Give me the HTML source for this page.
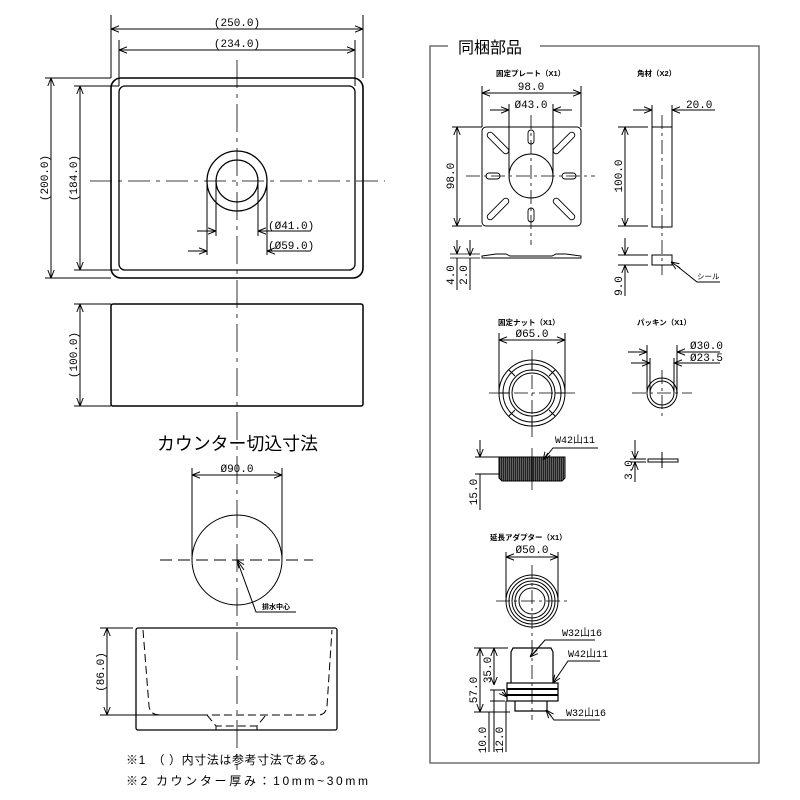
<!DOCTYPE html>
<html><head><meta charset="utf-8"><style>
html,body{margin:0;padding:0;background:#fff}
svg{display:block}
text{font-family:"Liberation Mono","Noto Sans CJK JP",monospace;fill:#000}
.j{font-family:"Liberation Sans","Noto Sans CJK JP",sans-serif}
</style></head><body>
<svg width="800" height="800" viewBox="0 0 800 800" xmlns="http://www.w3.org/2000/svg">
<defs>
<marker id="a" viewBox="0 0 10 10" refX="10" refY="5" markerWidth="8" markerHeight="8" orient="auto-start-reverse" markerUnits="userSpaceOnUse"><path d="M0,1 L10,5 L0,9" fill="none" stroke="#000" stroke-width="1.2"/></marker>
<pattern id="k" width="2" height="4" patternUnits="userSpaceOnUse"><rect width="2" height="4" fill="#222"/><rect width="0.6" height="4" fill="#888"/></pattern>
</defs>
<g fill="none" stroke="#000" stroke-width="1">
<!-- top view -->
<rect x="111" y="78" width="252" height="200" rx="10" stroke-width="1.6"/>
<rect x="119" y="86" width="236" height="184" rx="6" stroke-width="1.3"/>
<circle cx="237" cy="181" r="30" stroke-width="1.3"/>
<circle cx="237" cy="181" r="21" stroke-width="1.3"/>
<line x1="237" y1="60" x2="237" y2="770" stroke-dasharray="28,6,4,6" stroke-width="0.8"/>
<line x1="90" y1="181" x2="385" y2="181" stroke-dasharray="22,6,4,6" stroke-width="0.8"/>
<line x1="111" y1="15" x2="111" y2="78"/><line x1="363" y1="15" x2="363" y2="78"/>
<line x1="119" y1="40" x2="119" y2="86"/><line x1="355" y1="40" x2="355" y2="86"/>
<line x1="111" y1="29" x2="363" y2="29" marker-start="url(#a)" marker-end="url(#a)"/>
<line x1="119" y1="50" x2="355" y2="50" marker-start="url(#a)" marker-end="url(#a)"/>
<line x1="45" y1="78" x2="111" y2="78"/><line x1="45" y1="278" x2="111" y2="278"/>
<line x1="74" y1="86" x2="119" y2="86"/><line x1="74" y1="270" x2="119" y2="270"/>
<line x1="51" y1="78" x2="51" y2="278" marker-start="url(#a)" marker-end="url(#a)"/>
<line x1="80" y1="86" x2="80" y2="270" marker-start="url(#a)" marker-end="url(#a)"/>
<line x1="207" y1="181" x2="207" y2="255"/><line x1="267" y1="181" x2="267" y2="255"/>
<line x1="216" y1="181" x2="216" y2="236"/><line x1="258" y1="181" x2="258" y2="236"/>
<line x1="197" y1="231" x2="216" y2="231" marker-end="url(#a)"/><line x1="258" y1="231" x2="310" y2="231" marker-start="url(#a)"/>
<line x1="188" y1="251" x2="207" y2="251" marker-end="url(#a)"/><line x1="267" y1="251" x2="310" y2="251" marker-start="url(#a)"/>
<!-- side view -->
<rect x="111" y="304" width="252" height="102" rx="2" stroke-width="1.5"/>
<line x1="74" y1="304" x2="111" y2="304"/><line x1="74" y1="406" x2="111" y2="406"/>
<line x1="80" y1="304" x2="80" y2="406" marker-start="url(#a)" marker-end="url(#a)"/>
<!-- counter cutout -->
<circle cx="237" cy="560" r="45"/>
<line x1="160" y1="560" x2="313" y2="560" stroke-dasharray="12,6"/>
<line x1="192" y1="468" x2="192" y2="560"/><line x1="282" y1="468" x2="282" y2="560"/>
<line x1="192" y1="475" x2="282" y2="475" marker-start="url(#a)" marker-end="url(#a)"/>
<polyline points="296,612 256,612 237,560" /><line x1="244" y1="570" x2="237" y2="560" marker-end="url(#a)"/>
<rect x="136" y="628" width="201" height="102" rx="2" stroke-width="1.3"/>
<path d="M143,630 L149,706 Q150,715 160,715 L318,715 Q326,715 327,706 L332,630 M207,715 L216,726 L257,726 L266,715" stroke-dasharray="8,4"/>
<line x1="216" y1="726" x2="216" y2="730"/><line x1="257" y1="726" x2="257" y2="730"/>
<line x1="100" y1="628" x2="133" y2="628"/><line x1="100" y1="715" x2="205" y2="715"/>
<line x1="107" y1="628" x2="107" y2="715" marker-start="url(#a)" marker-end="url(#a)"/>
<!-- frame -->
<polyline points="448,46 430,46 430,763 759,763 759,46 540,46" stroke="#555" stroke-width="1.3"/>
<!-- plate -->
<rect x="482" y="127" width="99" height="99" rx="4"/>
<circle cx="531" cy="176" r="22"/>
<line x1="466" y1="176" x2="595" y2="176" stroke-dasharray="14,4,3,4" stroke-width="0.8"/>
<line x1="531" y1="115" x2="531" y2="245" stroke-dasharray="14,4,3,4" stroke-width="0.8"/>
<g stroke-width="0.9">
<rect x="528" y="130" width="6" height="14" rx="3"/><rect x="528" y="208" width="6" height="14" rx="3"/>
<rect x="486" y="173" width="14" height="6" rx="3"/><rect x="562" y="173" width="14" height="6" rx="3"/>
<rect x="484" y="140" width="28" height="6" rx="3" transform="rotate(45 498 143)"/>
<rect x="550" y="140" width="28" height="6" rx="3" transform="rotate(-45 564 143)"/>
<rect x="484" y="206" width="28" height="6" rx="3" transform="rotate(-45 498 209)"/>
<rect x="550" y="206" width="28" height="6" rx="3" transform="rotate(45 564 209)"/>
</g>
<line x1="482" y1="86" x2="482" y2="127"/><line x1="581" y1="86" x2="581" y2="127"/>
<line x1="482" y1="93" x2="581" y2="93" marker-start="url(#a)" marker-end="url(#a)"/>
<line x1="509" y1="104" x2="509" y2="176"/><line x1="553" y1="104" x2="553" y2="176"/>
<line x1="490" y1="110" x2="509" y2="110" marker-end="url(#a)"/><line x1="553" y1="110" x2="572" y2="110" marker-start="url(#a)"/>
<line x1="452" y1="127" x2="482" y2="127"/><line x1="452" y1="226" x2="482" y2="226"/>
<line x1="457" y1="127" x2="457" y2="226" marker-start="url(#a)" marker-end="url(#a)"/>
<path d="M482,256 L496,254 L506,254 L510,256 L552,256 L556,254 L566,254 L581,256 L581,258 L482,258 Z" stroke-width="0.9"/>
<line x1="450" y1="254" x2="480" y2="254" stroke-width="0.7"/><line x1="450" y1="258" x2="480" y2="258" stroke-width="0.7"/>
<line x1="457" y1="240" x2="457" y2="254" marker-end="url(#a)"/><line x1="457" y1="258" x2="457" y2="290"/>
<line x1="470" y1="240" x2="470" y2="256" marker-end="url(#a)"/><line x1="470" y1="258" x2="470" y2="290"/>
<!-- angle -->
<rect x="652" y="127" width="20" height="100"/>
<line x1="662" y1="115" x2="662" y2="275" stroke-dasharray="14,4,3,4" stroke-width="0.8"/>
<line x1="652" y1="105" x2="652" y2="127"/><line x1="672" y1="105" x2="672" y2="127"/>
<line x1="633" y1="110" x2="652" y2="110" marker-end="url(#a)"/><line x1="672" y1="110" x2="715" y2="110" marker-start="url(#a)"/>
<line x1="618" y1="127" x2="648" y2="127"/><line x1="618" y1="226" x2="648" y2="226"/>
<line x1="625" y1="127" x2="625" y2="226" marker-start="url(#a)" marker-end="url(#a)"/>
<rect x="652" y="255" width="20" height="10"/>
<line x1="618" y1="255" x2="648" y2="255"/><line x1="618" y1="265" x2="648" y2="265"/>
<line x1="625" y1="238" x2="625" y2="255" marker-end="url(#a)"/><line x1="625" y1="282" x2="625" y2="265" marker-end="url(#a)"/><line x1="625" y1="282" x2="625" y2="296"/>
<polyline points="720,282 697,282 677,266" /><line x1="680" y1="268" x2="671" y2="262" marker-end="url(#a)"/>
<!-- nut -->
<circle cx="532" cy="393" r="33"/><circle cx="532" cy="393" r="29"/>
<circle cx="532" cy="393" r="23"/><circle cx="532" cy="393" r="20"/>
<g stroke-width="1"><line x1="532" y1="360" x2="532" y2="370"/><line x1="532" y1="416" x2="532" y2="426"/>
<line x1="499" y1="393" x2="509" y2="393"/><line x1="555" y1="393" x2="565" y2="393"/>
<line x1="509" y1="370" x2="515" y2="376"/><line x1="555" y1="370" x2="549" y2="376"/><line x1="509" y1="416" x2="515" y2="410"/><line x1="555" y1="416" x2="549" y2="410"/></g>
<line x1="489" y1="393" x2="575" y2="393" stroke-dasharray="14,4,3,4" stroke-width="0.8"/>
<line x1="532" y1="350" x2="532" y2="437" stroke-dasharray="14,4,3,4" stroke-width="0.8"/>
<line x1="499" y1="333" x2="499" y2="393"/><line x1="565" y1="333" x2="565" y2="393"/>
<line x1="499" y1="340" x2="565" y2="340" marker-start="url(#a)" marker-end="url(#a)"/>
<path d="M499,457 L565,457 L565,478 L562,481 L502,481 L499,478 Z" fill="url(#k)"/>
<line x1="532" y1="448" x2="532" y2="490" stroke-width="0.8" />
<line x1="475" y1="457" x2="499" y2="457"/><line x1="475" y1="474" x2="499" y2="474"/>
<line x1="480" y1="440" x2="480" y2="457" marker-end="url(#a)"/><line x1="480" y1="474" x2="480" y2="510"/>
<polyline points="598,448 553,448 545,458"/><line x1="548" y1="453" x2="543" y2="460" marker-end="url(#a)"/>
<!-- packing -->
<circle cx="662" cy="393" r="15"/><circle cx="662" cy="393" r="12"/>
<line x1="632" y1="393" x2="692" y2="393" stroke-dasharray="14,4,3,4" stroke-width="0.8"/>
<line x1="662" y1="370" x2="662" y2="418" stroke-dasharray="14,4,3,4" stroke-width="0.8"/>
<line x1="647" y1="345" x2="647" y2="393"/><line x1="677" y1="345" x2="677" y2="393"/>
<line x1="650" y1="358" x2="650" y2="393"/><line x1="674" y1="358" x2="674" y2="393"/>
<line x1="628" y1="352" x2="647" y2="352" marker-end="url(#a)"/><line x1="677" y1="352" x2="720" y2="352" marker-start="url(#a)"/>
<line x1="631" y1="363" x2="650" y2="363" marker-end="url(#a)"/><line x1="674" y1="363" x2="720" y2="363" marker-start="url(#a)"/>
<rect x="648" y="459" width="30" height="3"/>
<line x1="662" y1="452" x2="662" y2="468"/>
<line x1="630" y1="459" x2="646" y2="459"/><line x1="630" y1="462" x2="646" y2="462"/>
<line x1="635" y1="440" x2="635" y2="459" marker-end="url(#a)"/><line x1="635" y1="482" x2="635" y2="462" marker-end="url(#a)"/>
<!-- adapter -->
<circle cx="532" cy="601" r="26"/><circle cx="532" cy="601" r="23"/><circle cx="532" cy="601" r="20"/><circle cx="532" cy="601" r="17"/><circle cx="532" cy="601" r="13"/>
<line x1="496" y1="601" x2="568" y2="601" stroke-dasharray="14,4,3,4" stroke-width="0.8"/>
<line x1="532" y1="565" x2="532" y2="720" stroke-dasharray="14,4,3,4" stroke-width="0.8"/>
<line x1="506" y1="552" x2="506" y2="601"/><line x1="558" y1="552" x2="558" y2="601"/>
<line x1="506" y1="557" x2="558" y2="557" marker-start="url(#a)" marker-end="url(#a)"/>
<path d="M511,683 L511,652 L513,648 L551,648 L553,652 L553,683" stroke-width="1.2"/>
<rect x="507" y="683" width="51" height="18" stroke-width="1.2"/>
<line x1="507" y1="689" x2="558" y2="689" stroke-width="2"/><line x1="507" y1="695" x2="558" y2="695" stroke-width="2"/>
<path d="M515,701 L515,711 L547,711 L547,701" stroke-width="1.2"/>
<line x1="474" y1="648" x2="508" y2="648"/><line x1="474" y1="712" x2="510" y2="712"/>
<line x1="480" y1="648" x2="480" y2="712" marker-start="url(#a)" marker-end="url(#a)"/>
<line x1="494" y1="648" x2="494" y2="685" marker-start="url(#a)" marker-end="url(#a)"/>
<line x1="490" y1="690" x2="505" y2="690"/><line x1="490" y1="701" x2="505" y2="701"/>
<line x1="494" y1="690" x2="494" y2="752"/><line x1="506" y1="701" x2="506" y2="752"/>
<line x1="489" y1="712" x2="489" y2="752"/>
<line x1="502" y1="692" x2="507" y2="697" marker-end="url(#a)"/>
<polyline points="595,640 545,640 532,655"/><line x1="537" y1="650" x2="530" y2="657" marker-end="url(#a)"/>
<polyline points="600,661 568,661 553,683"/><line x1="557" y1="677" x2="553" y2="683" marker-end="url(#a)"/>
<polyline points="600,720 554,720 548,712"/><line x1="551" y1="716" x2="546" y2="710" marker-end="url(#a)"/>
</g>
<g font-size="11">
<text x="237" y="26" text-anchor="middle">(250.0)</text>
<text x="237" y="47" text-anchor="middle">(234.0)</text>
<text transform="translate(48,178) rotate(-90)" text-anchor="middle">(200.0)</text>
<text transform="translate(77,178) rotate(-90)" text-anchor="middle">(184.0)</text>
<text x="268" y="229">(Ø41.0)</text>
<text x="268" y="249">(Ø59.0)</text>
<text transform="translate(77,355) rotate(-90)" text-anchor="middle">(100.0)</text>
<text x="237" y="472" text-anchor="middle">Ø90.0</text>
<text transform="translate(104,672) rotate(-90)" text-anchor="middle">(86.0)</text>
<text x="531" y="90" text-anchor="middle">98.0</text>
<text x="531" y="108" text-anchor="middle">Ø43.0</text>
<text transform="translate(454,176) rotate(-90)" text-anchor="middle">98.0</text>
<text transform="translate(454,275) rotate(-90)" text-anchor="middle">4.0</text>
<text transform="translate(467,275) rotate(-90)" text-anchor="middle">2.0</text>
<text x="686" y="108">20.0</text>
<text transform="translate(622,176) rotate(-90)" text-anchor="middle">100.0</text>
<text transform="translate(622,286) rotate(-90)" text-anchor="middle">9.0</text>
<text x="532" y="337" text-anchor="middle">Ø65.0</text>
<text transform="translate(477,492) rotate(-90)" text-anchor="middle">15.0</text>
<text x="690" y="349">Ø30.0</text>
<text x="690" y="361">Ø23.5</text>
<text transform="translate(632,470) rotate(-90)" text-anchor="middle">3.0</text>
<text x="532" y="553" text-anchor="middle">Ø50.0</text>
<text transform="translate(477,690) rotate(-90)" text-anchor="middle">57.0</text>
<text transform="translate(491,670) rotate(-90)" text-anchor="middle">35.0</text>
<text transform="translate(486,740) rotate(-90)" text-anchor="middle">10.0</text>
<text transform="translate(503,740) rotate(-90)" text-anchor="middle">12.0</text>
</g>
<g font-size="10">
<text x="555" y="443">W42山11</text>
<text x="562" y="636">W32山16</text>
<text x="568" y="657">W42山11</text>
<text x="566" y="716">W32山16</text>
</g>
<g class="j">
<text x="157" y="450" font-size="18" class="j" textLength="161" lengthAdjust="spacingAndGlyphs">カウンター切込寸法</text>
<text x="458" y="53" font-size="16" class="j">同梱部品</text>
<text x="262" y="609" font-size="7" font-weight="bold" class="j">排水中心</text>
<text x="496" y="76" font-size="7.5" font-weight="bold" class="j">固定プレート（X1）</text>
<text x="637" y="76" font-size="7.5" font-weight="bold" class="j">角材（X2）</text>
<text x="697" y="279" font-size="7.5" class="j">シール</text>
<text x="498" y="325" font-size="7.5" font-weight="bold" class="j">固定ナット（X1）</text>
<text x="637" y="325" font-size="7.5" font-weight="bold" class="j">パッキン（X1）</text>
<text x="490" y="540" font-size="7.5" font-weight="bold" class="j">延長アダプター（X1）</text>
<text x="126" y="764" font-size="12" class="j" textLength="206" lengthAdjust="spacing">※1　（ ）内寸法は参考寸法である。</text>
<text x="126" y="785" font-size="12" class="j" textLength="242" lengthAdjust="spacing">※2  カウンター厚み：10mm~30mm</text>
</g>
</svg>
</body></html>
